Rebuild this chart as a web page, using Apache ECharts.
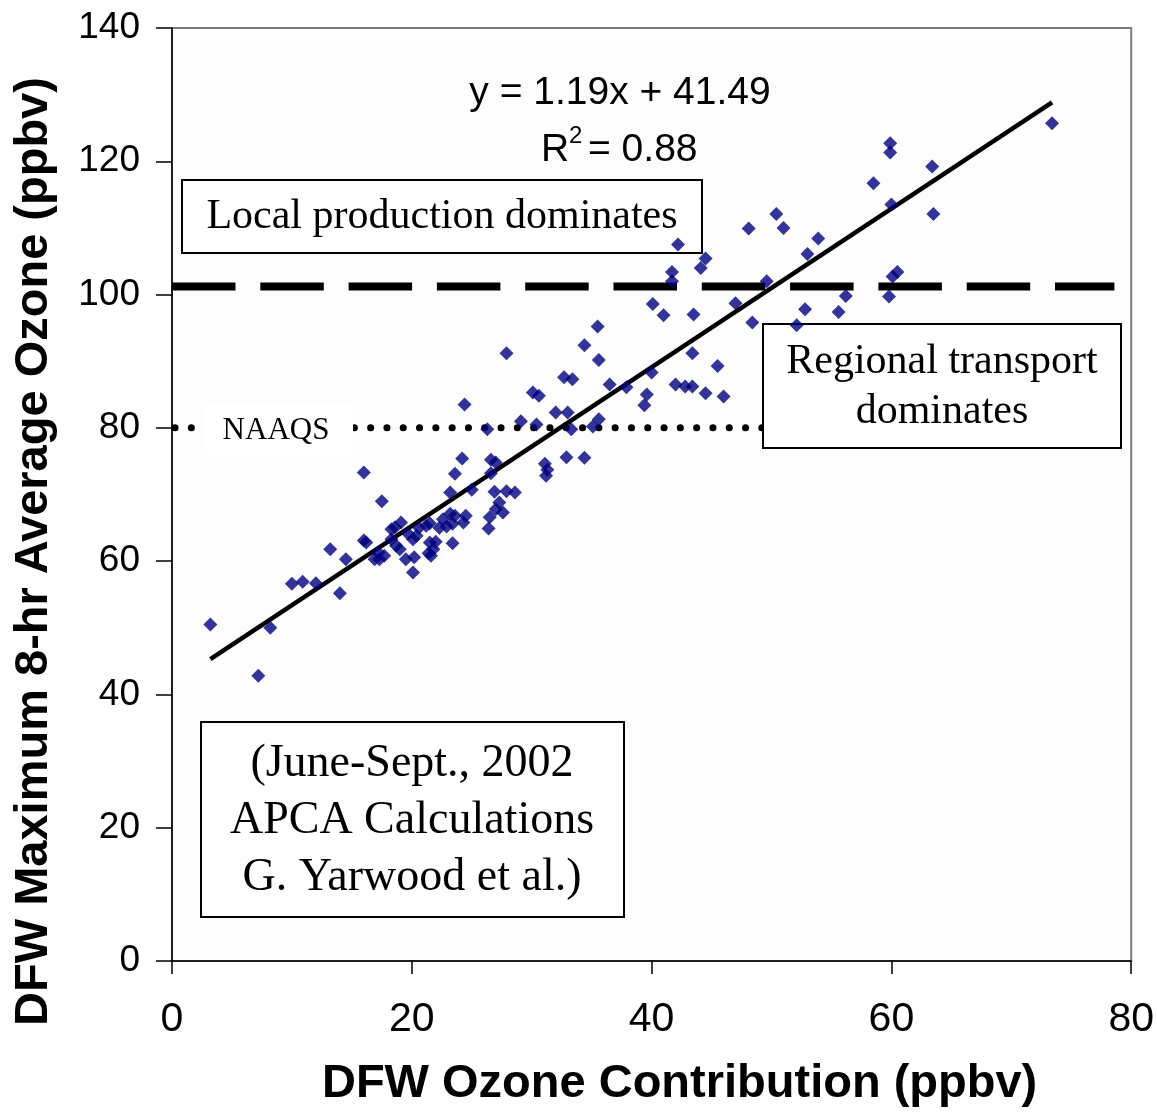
<!DOCTYPE html>
<html>
<head>
<meta charset="utf-8">
<title>DFW ozone contribution vs. maximum 8-hr average ozone</title>
<script src="https://cdn.jsdelivr.net/npm/echarts@6/dist/echarts.min.js"></script>
<style>
  html, body { margin: 0; padding: 0; background: #ffffff; }
  #chart { width: 1157px; height: 1113px; }
</style>
</head>
<body>
<div id="chart"></div>
<script>
// Daily DFW ozone contribution (ppbv), June–Sept. 2002 APCA calculations
const dfwContribution = [
  73.4, 59.9, 59.9, 63.4, 58.5, 60.0, 63.5, 48.1, 50.4, 51.0, 53.9, 53.0,
  44.5, 44.1, 49.6, 60.5, 60.1, 59.8, 56.2, 47.0, 52.8, 55.6, 48.4, 52.1,
  42.2, 41.7, 41.7, 40.1, 41.0, 43.5, 35.5, 34.4, 27.9, 35.6, 43.4, 45.5,
  40.0, 32.7, 33.4, 36.5, 37.9, 42.0, 42.8, 43.4, 44.5, 46.0, 39.6, 39.4,
  24.4, 30.1, 30.6, 32.0, 33.0, 29.1, 30.4, 35.6, 35.1, 33.3, 26.3, 24.2,
  23.6, 26.6, 27.0, 26.6, 32.9, 34.4, 31.1, 31.3, 31.2, 23.2, 25.0, 26.9,
  27.9, 28.6, 16.0, 17.5, 27.3, 27.0, 27.6, 26.5, 26.4, 23.2, 23.6, 24.5,
  24.3, 23.4, 22.6, 22.9, 22.3, 21.2, 21.5, 20.6, 19.1, 18.6, 18.3, 19.7,
  20.4, 20.1, 21.5, 22.0, 21.8, 21.4, 23.4, 21.6, 18.7, 19.0, 18.3, 16.2,
  17.2, 17.3, 17.7, 16.9, 19.5, 20.2, 20.1, 14.5, 13.2, 14.0, 10.0, 10.9,
  12.0, 3.2, 8.2, 7.2, 16.0
];
// DFW maximum 8-hr average ozone (ppbv) for the same days
const dfwMaxOzone = [
  125.7, 122.7, 121.3, 119.2, 116.7, 113.5, 112.1, 109.9, 112.1, 110.0, 108.4, 106.1,
  105.4, 104.0, 102.0, 103.4, 102.7, 99.7, 99.8, 98.7, 97.8, 97.4, 95.8, 95.4,
  107.5, 103.4, 102.0, 98.6, 96.9, 97.0, 95.2, 92.4, 91.2, 90.2, 91.2, 89.3,
  88.3, 87.6, 87.3, 86.5, 86.1, 86.5, 86.2, 86.2, 85.2, 84.7, 85.0, 83.4,
  83.5, 85.3, 84.8, 82.3, 82.3, 81.0, 80.5, 81.3, 80.2, 79.8, 79.8, 75.4,
  73.1, 75.2, 74.8, 73.2, 75.6, 75.5, 74.6, 73.7, 72.8, 70.3, 70.7, 70.4,
  70.5, 70.3, 73.3, 69.0, 68.8, 67.8, 67.3, 66.6, 64.9, 67.1, 66.8, 66.8,
  65.8, 65.6, 66.3, 65.2, 65.0, 65.3, 65.7, 65.0, 65.8, 65.1, 64.8, 64.1,
  63.8, 63.3, 62.8, 62.9, 61.8, 61.2, 62.7, 60.8, 62.3, 61.8, 63.3, 62.8,
  61.3, 60.3, 60.8, 60.3, 60.3, 60.6, 58.3, 60.3, 61.8, 55.2, 56.6, 56.9,
  56.7, 50.5, 50.0, 42.8, 63.1
];

// Least-squares fit reported on the chart
const fitSlope = 1.19;
const fitIntercept = 41.49;
const fitR2 = 0.88;
const fitRange = [3.2, 73.4];

// Reference levels (ppbv)
const naaqsLevel = 80;
const localThreshold = 101.2;
const localLineRange = [0, 78.6];
const naaqsLineRange = [0.25, 49.6];

// Axis ticks
const xTicks = { min: 0, max: 80, step: 20 };
const yTicks = { min: 0, max: 140, step: 20 };

const points = dfwContribution.map((x, i) => [x, dfwMaxOzone[i]]);
const fitLine = fitRange.map(x => [x, fitSlope * x + fitIntercept]);

const SANS = '"Liberation Sans", Arial, sans-serif';
const SERIF = '"Liberation Serif", "Times New Roman", serif';

const chart = echarts.init(document.getElementById('chart'), null, { renderer: 'canvas' });

chart.setOption({
  animation: false,
  backgroundColor: '#ffffff',
  grid: {
    left: 172, top: 28, right: 24, bottom: 149,
    show: true, borderColor: '#7a7a7a', borderWidth: 2, backgroundColor: '#fdfdfd'
  },
  xAxis: {
    type: 'value',
    min: xTicks.min, max: xTicks.max, interval: xTicks.step,
    name: 'DFW Ozone Contribution (ppbv)',
    nameLocation: 'middle',
    nameGap: 100,
    nameTextStyle: {
      fontFamily: SANS, fontWeight: 'bold', fontSize: 47, color: '#000',
      padding: [0, 0, 0, 56]
    },
    axisLine: { show: true, onZero: false, lineStyle: { color: '#000', width: 1.5 } },
    axisTick: { show: true, inside: false, length: 13, lineStyle: { color: '#000', width: 1.5 } },
    axisLabel: { fontFamily: SANS, fontSize: 41, color: '#000', margin: 38 },
    splitLine: { show: false }
  },
  yAxis: {
    type: 'value',
    min: yTicks.min, max: yTicks.max, interval: yTicks.step,
    name: 'DFW Maximum 8-hr Average Ozone (ppbv)',
    nameLocation: 'middle',
    nameGap: 114,
    nameTextStyle: {
      fontFamily: SANS, fontWeight: 'bold', fontSize: 47, color: '#000',
      padding: [0, 114, 0, 0]
    },
    axisLine: { show: true, onZero: false, lineStyle: { color: '#000', width: 1.5 } },
    axisTick: { show: true, inside: false, length: 16, lineStyle: { color: '#000', width: 1.5 } },
    axisLabel: { fontFamily: SANS, fontSize: 37, color: '#000', margin: 32 },
    splitLine: { show: false }
  },
  series: [
    {
      name: 'Local production threshold',
      type: 'line',
      z: 2,
      silent: true,
      symbol: 'none',
      data: localLineRange.map(x => [x, localThreshold]),
      lineStyle: { color: '#000', width: 8, type: [63.5, 24.8], cap: 'butt' }
    },
    {
      name: 'NAAQS',
      type: 'line',
      z: 2,
      silent: true,
      symbol: 'none',
      data: naaqsLineRange.map(x => [x, naaqsLevel]),
      lineStyle: { color: '#000', width: 7, type: [0.1, 16.2], cap: 'round' }
    },
    {
      name: 'Linear fit',
      type: 'line',
      z: 8,
      silent: true,
      symbol: 'none',
      data: fitLine,
      lineStyle: { color: '#000', width: 4.5 }
    },
    {
      name: 'Daily values',
      type: 'scatter',
      z: 10,
      symbol: 'diamond',
      symbolSize: 14,
      itemStyle: { color: '#000080' },
      data: points
    }
  ],
  graphic: [
    // fit equation
    {
      type: 'text', z: 20, x: 620, y: 93,
      style: {
        text: 'y = ' + fitSlope.toFixed(2) + 'x + ' + fitIntercept.toFixed(2),
        font: '39px ' + SANS, fill: '#000', align: 'center', verticalAlign: 'middle'
      }
    },
    {
      type: 'text', z: 20, x: 541, y: 150,
      style: { text: 'R', font: '39px ' + SANS, fill: '#000', align: 'left', verticalAlign: 'middle' }
    },
    {
      type: 'text', z: 20, x: 569, y: 136,
      style: { text: '2', font: '24px ' + SANS, fill: '#000', align: 'left', verticalAlign: 'middle' }
    },
    {
      type: 'text', z: 20, x: 588, y: 150,
      style: { text: '= ' + fitR2.toFixed(2), font: '39px ' + SANS, fill: '#000', align: 'left', verticalAlign: 'middle' }
    },
    // local production box
    {
      type: 'rect', z: 5,
      shape: { x: 182, y: 180, width: 520, height: 73 },
      style: { fill: '#ffffff', stroke: '#000', lineWidth: 2 }
    },
    {
      type: 'text', z: 6, x: 442, y: 217,
      style: { text: 'Local production dominates', font: '42px ' + SERIF, fill: '#000', align: 'center', verticalAlign: 'middle' }
    },
    // regional transport box
    {
      type: 'rect', z: 5,
      shape: { x: 763, y: 324, width: 358, height: 124 },
      style: { fill: '#ffffff', stroke: '#000', lineWidth: 2 }
    },
    {
      type: 'text', z: 6, x: 942, y: 387,
      style: {
        text: 'Regional transport\ndominates', font: '42px ' + SERIF, lineHeight: 50,
        fill: '#000', align: 'center', verticalAlign: 'middle'
      }
    },
    // NAAQS label
    {
      type: 'rect', z: 5,
      shape: { x: 202, y: 405, width: 151, height: 50 },
      style: { fill: '#ffffff', lineWidth: 0 }
    },
    {
      type: 'text', z: 6, x: 276, y: 431,
      style: { text: 'NAAQS', font: '31px ' + SERIF, fill: '#000', align: 'center', verticalAlign: 'middle' }
    },
    // source note
    {
      type: 'rect', z: 5,
      shape: { x: 201, y: 722, width: 423, height: 195 },
      style: { fill: '#ffffff', stroke: '#000', lineWidth: 2 }
    },
    {
      type: 'text', z: 6, x: 412, y: 821,
      style: {
        text: '(June-Sept., 2002\nAPCA Calculations\nG. Yarwood et al.)', font: '46px ' + SERIF, lineHeight: 57,
        fill: '#000', align: 'center', verticalAlign: 'middle'
      }
    }
  ]
});
</script>
</body>
</html>
